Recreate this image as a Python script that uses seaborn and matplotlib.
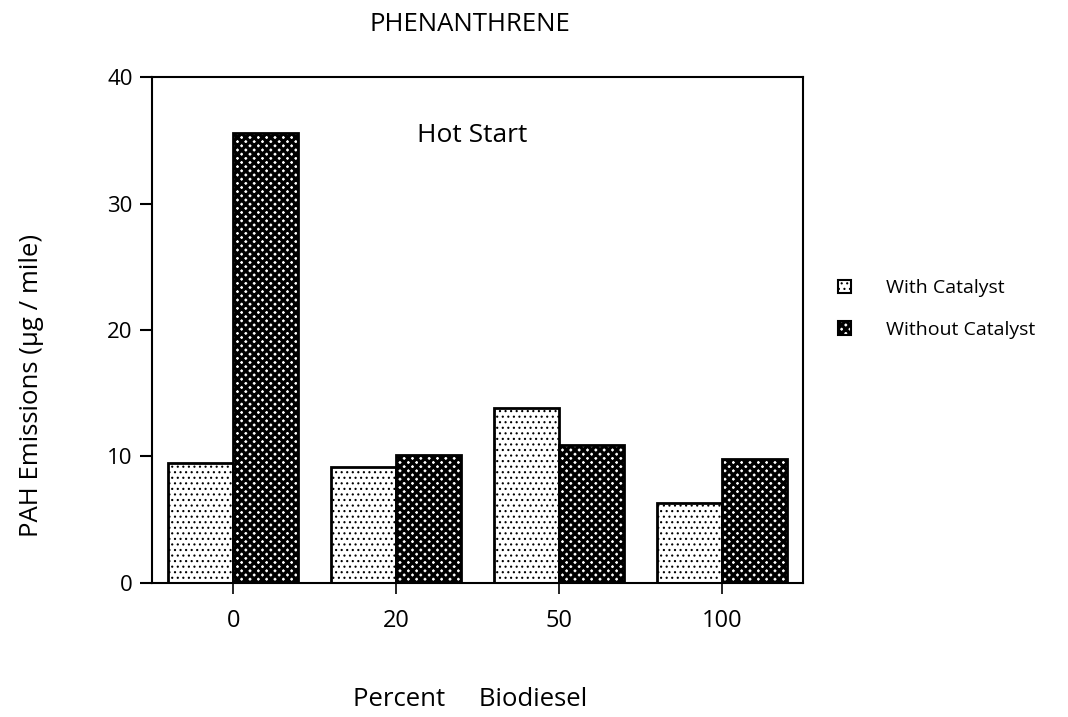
import pandas as pd
import numpy as np
import matplotlib.pyplot as plt
import seaborn as sns
from matplotlib.patches import Patch

# ========= data ============================================
percent_biodiesel = ['0', '20', '50', '100']
with_catalyst = [9.5, 9.2, 13.8, 6.3]
without_catalyst = [35.6, 10.1, 10.9, 9.8]
series_names = ['With Catalyst', 'Without Catalyst']
y_ticks = [0, 10, 20, 30, 40]

df = pd.DataFrame({
    'percent': percent_biodiesel * 2,
    'value': with_catalyst + without_catalyst,
    'series': [series_names[0]] * 4 + [series_names[1]] * 4,
})

sns.set_theme(style='ticks')
plt.rcParams['font.family'] = ['Open Sans', 'DejaVu Sans']
plt.rcParams['hatch.linewidth'] = 0.8
for key in ['text.color', 'axes.labelcolor', 'xtick.color', 'ytick.color', 'axes.edgecolor']:
    plt.rcParams[key] = 'black'

fig = plt.figure(figsize=(10.68, 7.17), dpi=100)
ax = fig.add_axes([0.1423, 0.1869, 0.6096, 0.7057])

sns.barplot(data=df, x='percent', y='value', hue='series', order=percent_biodiesel,
            hue_order=series_names, palette=['white', 'white'], edgecolor='black',
            linewidth=2, width=0.8, saturation=1, legend=False, ax=ax)

# hatch patterns: light dots / dark lattice
hatches = ['...', 'xxxx']
hatch_widths = [0.8, 2.4]
for cont, h, hw in zip(ax.containers, hatches, hatch_widths):
    for bar in cont:
        bar.set_hatch(h)
        bar.set_edgecolor('black')
        if hasattr(bar, 'set_hatch_linewidth'):
            bar.set_hatch_linewidth(hw)

ax.set_xlim(-0.5, 3.5)
ax.set_ylim(0, 40)
ax.set_yticks(y_ticks)
for s in ax.spines.values():
    s.set_visible(True)
    s.set_linewidth(1.5)
ax.tick_params(axis='y', length=9, width=1.5, pad=5, labelsize=16)
ax.tick_params(axis='x', length=8, width=1.2, pad=11, labelsize=17)

ax.set_title('PHENANTHRENE', fontsize=18.5, x=0.488, y=1.0, pad=33)
ax.text(1.47, 35.4, 'Hot Start', fontsize=19, ha='center', va='center')

ax.set_xlabel('Percent     Biodiesel', fontsize=18.5)
ax.xaxis.set_label_coords(0.488, -0.205)
ax.set_ylabel('PAH Emissions (µg / mile)', fontsize=18.5)
ax.yaxis.set_label_coords(-0.166, 0.39)

handles = [Patch(facecolor='white', edgecolor='black', hatch=h, linewidth=1.5) for h in hatches]
leg = ax.legend(handles, series_names, loc='upper left', bbox_to_anchor=(1.053, 0.6),
                frameon=False, fontsize=14, handlelength=0.7, handleheight=0.7,
                handletextpad=1.8, labelspacing=1.2, borderpad=0, borderaxespad=0)
for p, hw in zip(leg.get_patches(), hatch_widths):
    if hasattr(p, 'set_hatch_linewidth'):
        p.set_hatch_linewidth(hw)

fig.savefig('out.png', dpi=100, facecolor='white')
